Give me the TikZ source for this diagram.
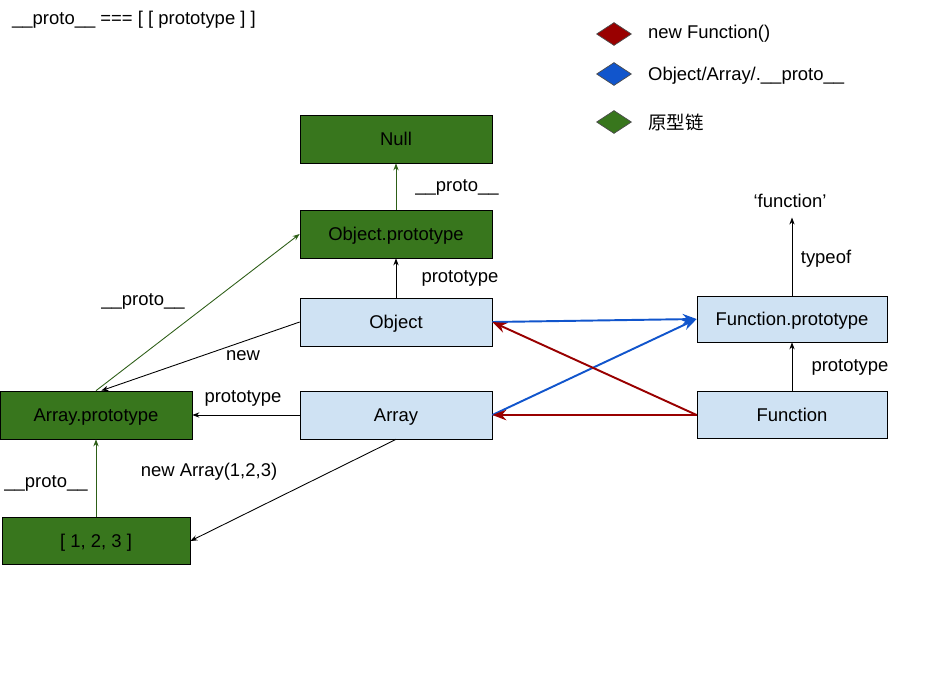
\documentclass[tikz,border=0pt]{standalone}
\usepackage{fontspec}
\setmainfont{Liberation Sans}
\newfontfamily\cjk{Noto Sans CJK SC}
\usetikzlibrary{arrows.meta,shapes.geometric}
\definecolor{protogreen}{HTML}{38761D}
\definecolor{ctorfill}{HTML}{CFE2F3}
\definecolor{newred}{HTML}{990000}
\definecolor{linkblue}{HTML}{1155CC}

\begin{document}
\begin{tikzpicture}[x=0.02cm,y=-0.02cm,font=\fontsize{10.5}{12}\selectfont,
		greenbox/.style={draw=black,fill=protogreen,minimum width=3.84cm,minimum height=0.96cm,inner sep=0pt,text height=1.9ex,text depth=0.5ex},
		ctorbox/.style={draw=black,fill=ctorfill,minimum width=3.84cm,minimum height=0.96cm,inner sep=0pt,text height=1.9ex,text depth=0.5ex},
		blackarrow/.style={-{Stealth[length=4pt,width=3pt]},line width=0.5pt},
		greenarrow/.style={-{Stealth[length=4pt,width=3pt]},draw=protogreen!80!black,line width=0.5pt},
		redarrow/.style={-{Stealth[length=8pt,width=6pt]},draw=newred,line width=1.1pt},
		bluearrow/.style={-{Stealth[length=8pt,width=6pt]},draw=linkblue,line width=1.1pt},
		legend/.style={diamond,draw=black!70,minimum width=0.7cm,minimum height=0.46cm,inner sep=0pt}]
			\useasboundingbox (0,0) rectangle (943,674);
			
			\node[anchor=west] (title) at (6,20) {\_\_proto\_\_ === [ [ prototype ] ]};
			
			\node[legend,fill=newred] (lgred) at (614,34) {};
			\node[anchor=west] (lgredtxt) at (642,34) {new Function()};
			\node[legend,fill=linkblue] (lgblue) at (614,74) {};
			\node[anchor=west] (lgbluetxt) at (642,76) {Object/Array/.\_\_proto\_\_};
			\node[legend,fill=protogreen] (lggreen) at (614,122) {};
			\node[anchor=west] (lggreentxt) at (642,122) {\cjk 原型链};
			
			\node[greenbox] (null) at (396,139) {Null};
			\node[greenbox] (oproto) at (396,234) {Object.prototype};
			\node[ctorbox] (obj) at (396,322) {Object};
			\node[ctorbox] (arr) at (396,415) {Array};
			\node[greenbox] (aproto) at (96,415) {Array.prototype};
			\node[greenbox,minimum width=3.76cm,minimum height=0.94cm] (inst) at (96,541) {[ 1, 2, 3 ]};
			\node[ctorbox,minimum width=3.8cm,minimum height=0.92cm] (fproto) at (792,319) {Function.prototype};
			\node[ctorbox,minimum width=3.8cm,minimum height=0.94cm] (func) at (792,415) {Function};
			\node (typeres) at (790,201) {`function'};
			
			\draw[greenarrow] (oproto) -- (null);
			\node (l1) at (457,187) {\_\_proto\_\_};
			\draw[blackarrow] (obj) -- (oproto);
			\node (l2) at (460,278) {prototype};
			\draw[greenarrow] (aproto.north) -- (oproto.west);
			\node (l3) at (143,301) {\_\_proto\_\_};
			\draw[blackarrow] (obj.west) -- ([xshift=3pt]aproto.north);
			\node (l4) at (243,356) {new};
			\draw[blackarrow] (arr) -- (aproto);
			\node (l5) at (243,398) {prototype};
			\draw[greenarrow] (inst) -- (aproto);
			\node (l6) at (46,483) {\_\_proto\_\_};
			\draw[blackarrow] (arr.south) -- (inst.east);
			\node (l7) at (209,472) {new Array(1,2,3)};
			\draw[blackarrow] (func) -- (fproto);
			\node (l8) at (850,367) {prototype};
			\draw[blackarrow] (fproto.north) -- ([yshift=-2pt]fproto.north |- typeres.south);
			\node (l9) at (826,259) {typeof};
			
			\draw[bluearrow] (obj.east) -- (fproto.west);
			\draw[bluearrow] (arr.east) -- (fproto.west);
			\draw[redarrow] (func.west) -- (obj.east);
			\draw[redarrow] (func.west) -- (arr.east);
\end{tikzpicture}
\end{document}
